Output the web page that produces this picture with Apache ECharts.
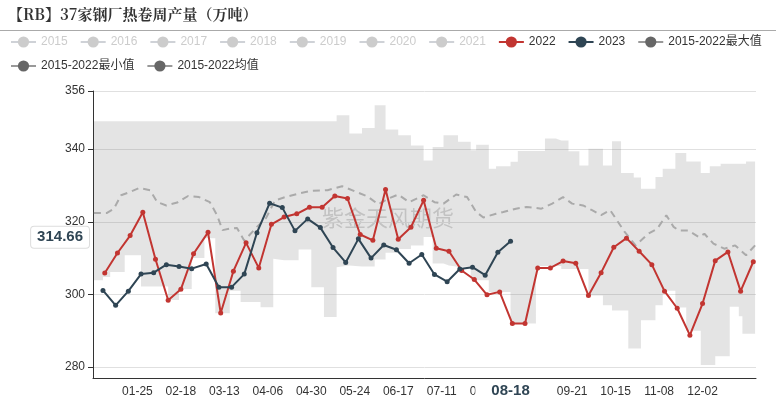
<!DOCTYPE html>
<html>
<head>
<meta charset="utf-8">
<script src="https://cdn.jsdelivr.net/npm/echarts@6/dist/echarts.min.js"></script>
<style>
  html, body { margin: 0; padding: 0; background: #fff; }
  #main { width: 776px; height: 401px; }
</style>
</head>
<body>
<div id="main"></div>
<script>
// 37家钢厂热卷周产量, 按日期(月-日)画在闰年日历上
var hiddenYears = ['2015', '2016', '2017', '2018', '2019', '2020', '2021']

var dates2022 = ['01-07', '01-14', '01-21', '01-28', '02-04', '02-11', '02-18', '02-25', '03-04', '03-11', '03-18', '03-25',
  '04-01', '04-08', '04-15', '04-22', '04-29', '05-06', '05-13', '05-20', '05-27', '06-03', '06-10', '06-17', '06-24',
  '07-01', '07-08', '07-15', '07-22', '07-29', '08-05', '08-12', '08-19', '08-26', '09-02', '09-09', '09-16', '09-23',
  '09-30', '10-07', '10-14', '10-21', '10-28', '11-04', '11-11', '11-18', '11-25', '12-02', '12-09', '12-16', '12-23', '12-30']
var values2022 = [305.9, 311.4, 316.2, 322.6, 309.7, 298.4, 301.4, 311.2, 317.1, 294.9, 306.4, 314.2,
  307.3, 319.3, 321.3, 322.2, 324.0, 324.0, 327.1, 326.4, 316.5, 314.9, 328.9, 315.2, 318.5,
  325.9, 312.7, 311.9, 306.6, 304.1, 299.9, 300.7, 292.0, 292.0, 307.3, 307.3, 309.2, 308.6,
  299.7, 306.0, 313.0, 315.5, 311.9, 308.2, 300.9, 296.2, 288.8, 297.5, 309.3, 311.7, 300.9, 309.0]

var dates2023 = ['01-06', '01-13', '01-20', '01-27', '02-03', '02-10', '02-17', '02-24', '03-03', '03-10', '03-17', '03-24',
  '03-31', '04-07', '04-14', '04-21', '04-28', '05-05', '05-12', '05-19', '05-26', '06-02', '06-09', '06-16', '06-23',
  '06-30', '07-07', '07-14', '07-21', '07-28', '08-04', '08-11', '08-18']
var values2023 = [301.1, 297.0, 300.9, 305.6, 306.0, 308.2, 307.7, 307.1, 308.4, 302.0, 302.0, 305.6,
  317.0, 325.1, 323.9, 317.5, 320.8, 318.4, 312.9, 308.8, 315.3, 310.0, 313.6, 312.3, 308.6,
  311.0, 305.5, 303.5, 307.0, 307.5, 305.3, 311.6, 314.66]

// 2015-2022 区间 (阶梯)
var bandDates = ['01-01', '01-06', '01-10', '01-18', '01-27', '02-11', '02-17', '02-24', '03-02', '03-08', '03-16', '03-22',
  '04-02', '04-09', '04-15', '04-23', '04-30', '05-07', '05-14', '05-21', '05-28', '06-04', '06-10', '06-17', '06-24',
  '07-01', '07-06', '07-12', '07-15', '07-20', '07-27', '07-30', '08-06', '08-10', '08-18', '08-22', '09-01', '09-06',
  '09-12', '09-15', '09-19', '09-25', '09-30', '10-08', '10-13', '10-18', '10-22', '10-25', '10-29', '11-06', '11-10',
  '11-17', '11-23', '12-01', '12-06', '12-09', '12-12', '12-17', '12-22', '12-24', '12-26', '12-31']
var bandMax = [347.7, 347.7, 347.7, 347.7, 347.7, 347.7, 347.7, 347.7, 347.7, 347.7, 347.7, 347.7,
  347.7, 347.7, 347.7, 347.7, 347.7, 347.7, 349.3, 344.3, 345.8, 352.1, 345.4, 343.8, 341.0,
  336.9, 340.6, 343.8, 343.8, 342.0, 339.7, 341.2, 334.6, 335.3, 336.5, 339.5, 339.5, 342.9,
  342.4, 342.4, 339.4, 335.5, 340.1, 335.5, 342.2, 333.4, 333.4, 332.2, 329.1, 332.3, 334.6,
  338.9, 336.6, 333.4, 335.3, 335.3, 336.0, 336.0, 336.0, 336.0, 336.6, 336.6]
var bandMin = [303.9, 304.8, 306.2, 310.8, 302.2, 298.5, 301.5, 310.0, 315.5, 294.8, 301.0, 297.9,
  296.5, 309.8, 309.4, 312.4, 302.0, 293.8, 307.5, 308.0, 307.7, 309.6, 311.5, 312.5, 313.5,
  315.8, 308.5, 308.5, 308.0, 307.6, 303.9, 303.9, 300.7, 300.7, 292.0, 292.0, 307.8, 307.8,
  307.8, 307.0, 307.0, 307.0, 299.7, 297.0, 295.6, 295.6, 285.1, 285.1, 292.9, 297.0, 301.0,
  296.4, 290.0, 280.6, 280.6, 283.0, 283.0, 296.6, 294.0, 289.2, 289.2, 289.2]

var meanDates = ['01-01', '01-08', '01-12', '01-16', '01-21', '01-26', '02-01', '02-05', '02-10', '02-16', '02-22', '02-28',
  '03-05', '03-09', '03-12', '03-16', '03-20', '03-24', '03-31', '04-05', '04-10', '04-17', '04-24', '04-30', '05-09',
  '05-17', '05-25', '05-31', '06-06', '06-12', '06-17', '06-23', '07-01', '07-07', '07-12', '07-19', '07-25', '07-30',
  '08-03', '08-10', '08-14', '08-21', '08-27', '09-04', '09-10', '09-16', '09-21', '09-27', '10-02', '10-07', '10-12',
  '10-16', '10-20', '10-26', '11-02', '11-07', '11-12', '11-16', '11-19', '11-24', '11-30', '12-03', '12-08', '12-14',
  '12-20', '12-26', '12-31']
var meanValues = [322.4, 322.4, 323.6, 327.3, 328.2, 329.3, 328.7, 325.4, 324.5, 325.3, 327.1, 326.8,
  325.4, 321.8, 317.7, 318.1, 318.3, 314.8, 318.6, 321.0, 325.9, 327.0, 327.9, 328.5, 328.7,
  329.8, 328.2, 327.0, 324.8, 326.5, 327.5, 325.4, 327.3, 325.4, 325.0, 327.5, 326.8, 322.7,
  321.2, 322.2, 322.7, 323.6, 324.1, 323.6, 325.0, 326.8, 325.0, 324.5, 323.2, 321.8, 323.2,
  320.2, 317.2, 313.5, 316.7, 318.1, 321.8, 318.6, 317.6, 317.6, 315.8, 316.7, 314.0, 312.6,
  313.5, 310.8, 313.5]

var yMin = 277
var yMax = 356
var lastDate = '08-18'
var lastValue = 314.66

// 闰年的全部月-日
var days = []
for (var d = new Date(Date.UTC(2020, 0, 1)); d.getUTCFullYear() === 2020; d.setUTCDate(d.getUTCDate() + 1)) {
  days.push(String(d.getUTCMonth() + 1).padStart(2, '0') + '-' + String(d.getUTCDate()).padStart(2, '0'))
}

function pairs(xs, ys) {
  return xs.map(function (x, i) { return [x, ys[i]] })
}

var font = "'Liberation Sans', 'Noto Sans CJK SC', sans-serif"
var labelEvery = function (idx) { return idx > 0 && idx <= 336 && idx % 24 === 0 }

var selected = {}
hiddenYears.forEach(function (y) { selected[y] = false })

var greyIcon = { itemStyle: { color: '#666' }, lineStyle: { color: '#999', width: 2, type: 'solid', opacity: 1 } }
var legendData = hiddenYears.map(function (y) { return { name: y } }).concat([
  { name: '2022' },
  { name: '2023' },
  Object.assign({ name: '2015-2022最大值' }, greyIcon),
  Object.assign({ name: '2015-2022最小值' }, greyIcon),
  Object.assign({ name: '2015-2022均值' }, greyIcon)
])

var series = [
  {
    name: '2015-2022最小值', type: 'line', stack: 'band', step: 'end',
    data: pairs(bandDates, bandMin),
    symbol: 'circle', showSymbol: false, color: '#666',
    lineStyle: { width: 0 }, silent: true, z: 1
  },
  {
    name: '2015-2022最大值', type: 'line', stack: 'band', step: 'end',
    data: bandDates.map(function (x, i) { return [x, +(bandMax[i] - bandMin[i]).toFixed(2)] }),
    symbol: 'circle', showSymbol: false, color: '#666',
    lineStyle: { width: 0 }, areaStyle: { color: 'rgba(120,120,120,0.2)', opacity: 1 }, silent: true, z: 1
  },
  {
    name: '2015-2022均值', type: 'line', data: pairs(meanDates, meanValues),
    symbol: 'circle', showSymbol: false, color: '#666',
    lineStyle: { color: '#aaa', width: 2, type: [7, 5] }, z: 2
  },
  {
    name: '2022', type: 'line', data: pairs(dates2022, values2022),
    symbol: 'circle', symbolSize: 5, showAllSymbol: true, color: '#c23531',
    lineStyle: { width: 2 }, z: 3
  },
  {
    name: '2023', type: 'line', data: pairs(dates2023, values2023),
    symbol: 'circle', symbolSize: 5, showAllSymbol: true, color: '#2f4554',
    lineStyle: { width: 2 }, z: 4
  }
].concat(hiddenYears.map(function (y) {
  return { name: y, type: 'line', data: [], symbol: 'circle' }
}))

var chart = echarts.init(document.getElementById('main'))
chart.setOption({
  animation: false,
  textStyle: { fontFamily: font },
  title: {
    text: '【RB】37家钢厂热卷周产量（万吨）',
    left: 3, top: 2,
    textStyle: { fontSize: 15, fontWeight: 'bold', color: '#333', fontFamily: "'Noto Serif CJK SC', 'Liberation Serif', serif" }
  },
  graphic: [
    { type: 'line', shape: { x1: 0, y1: 30.5, x2: 776, y2: 30.5 }, style: { stroke: '#aaa', lineWidth: 1 }, silent: true },
    {
      type: 'text', left: 322, top: 207, z: 0, silent: true,
      style: { text: '紫金天风期货', fontSize: 22, fill: 'rgba(120,120,120,0.32)', fontFamily: "'Noto Sans CJK SC', sans-serif" }
    }
  ],
  legend: {
    data: legendData, selected: selected,
    left: 5, right: 4, top: 31,
    itemWidth: 25, itemHeight: 14, itemGap: 12,
    textStyle: { fontSize: 12, color: '#333', fontFamily: font },
    inactiveColor: '#ccc'
  },
  grid: { left: 93, right: 20, top: 91, bottom: 23 },
  xAxis: {
    type: 'category', data: days, boundaryGap: true,
    axisLine: { lineStyle: { color: '#333' } },
    axisTick: { interval: labelEvery, length: 5, lineStyle: { color: '#333' } },
    axisLabel: { interval: labelEvery, color: '#333', fontSize: 12, margin: 8 },
    splitLine: { show: false },
    axisPointer: {
      show: true, type: 'line', status: 'show', value: days.indexOf(lastDate), triggerTooltip: false,
      lineStyle: { opacity: 0 },
      label: {
        show: true, backgroundColor: '#fff', color: '#2f4554', fontWeight: 'bold', fontSize: 15,
        padding: [3, 16], margin: 6
      }
    }
  },
  yAxis: {
    type: 'value', min: yMin, max: yMax, splitNumber: 5,
    axisLine: { show: true, lineStyle: { color: '#333' } },
    axisTick: { show: true, length: 5, lineStyle: { color: '#333' } },
    axisLabel: { color: '#333', fontSize: 12, showMinLabel: false, margin: 8 },
    splitLine: { lineStyle: { color: '#e0e0e0' } },
    axisPointer: {
      // 标签略高于末值点, 与原图一致
      show: true, type: 'line', status: 'show', value: lastValue + 1.1, triggerTooltip: false,
      lineStyle: { opacity: 0 },
      label: {
        show: true, backgroundColor: '#fff', borderColor: '#ddd', borderWidth: 1,
        color: '#2f4554', fontWeight: 'bold', fontSize: 15, padding: [3, 6], margin: 4,
        formatter: function () { return lastValue.toFixed(2) }
      }
    }
  },
  series: series
})
window.addEventListener('resize', chart.resize)
</script>
</body>
</html>
